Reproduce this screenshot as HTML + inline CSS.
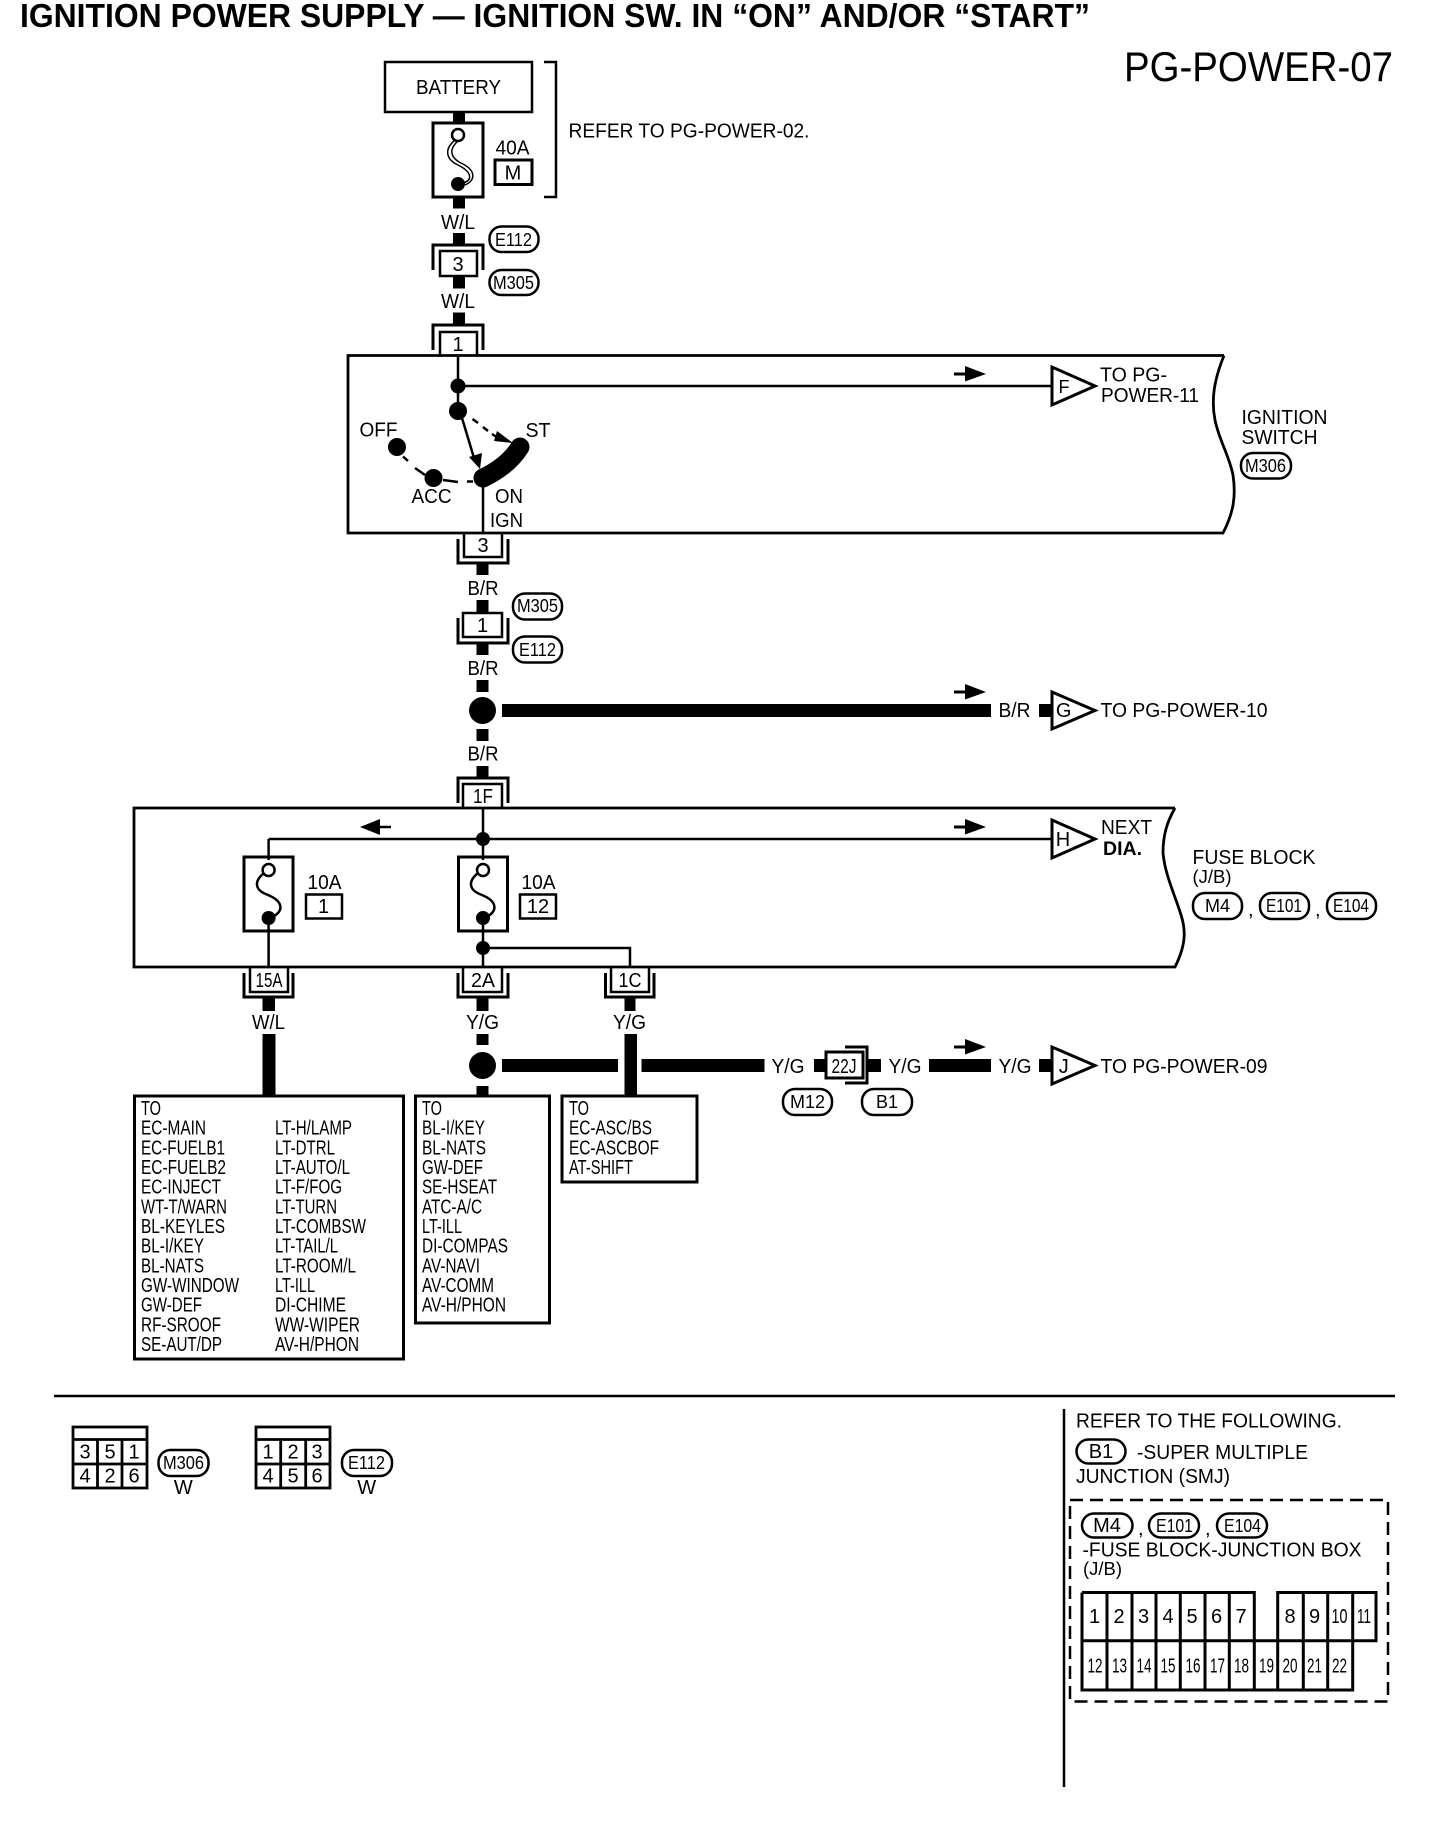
<!DOCTYPE html>
<html><head><meta charset="utf-8"><title>Ignition Power Supply</title>
<style>
html,body{margin:0;padding:0;background:#fff}
svg{display:block}
text{font-family:"Liberation Sans",sans-serif;font-size:20px;fill:#000}
.c{text-anchor:middle}
.s{font-size:18px}
.w{fill:#000;stroke:none}
.l{fill:none;stroke:#000;stroke-width:2.5}
.b{fill:none;stroke:#000;stroke-width:3}
.p{fill:#fff;stroke:#000;stroke-width:2.5}
</style></head><body>
<svg width="1456" height="1822" viewBox="0 0 1456 1822" xmlns="http://www.w3.org/2000/svg">
<rect width="1456" height="1822" fill="#fff"/>
<text x="20" y="27" style="font-size:33px;font-weight:bold" textLength="1070" lengthAdjust="spacingAndGlyphs">IGNITION POWER SUPPLY — IGNITION SW. IN “ON” AND/OR “START”</text>
<text x="1124" y="81" style="font-size:42px" textLength="269" lengthAdjust="spacingAndGlyphs">PG-POWER-07</text>

<!-- battery -->
<rect x="385" y="62" width="147" height="50" class="l"/>
<text x="416" y="94" textLength="85" lengthAdjust="spacingAndGlyphs">BATTERY</text>
<path d="M544,62H556V197H544" class="l"/>
<text x="568.500" y="137.500" textLength="241" lengthAdjust="spacingAndGlyphs">REFER TO PG-POWER-02.</text>
<rect x="453" y="111" width="12" height="12" class="w"/>
<rect x="433" y="123" width="50" height="74" class="b"/>
<circle cx="458" cy="135" r="6" fill="#fff" stroke="#000" stroke-width="2.500"/>
<circle cx="458" cy="184" r="7" class="w"/>
<path d="M455,140C443,150 447,160 458,165C472,172 473,180 463,183M458,141C448,150 451,158 461,163C476,170 476,180 465,185" fill="none" stroke="#000" stroke-width="1.500"/>
<text x="495.500" y="154.600" textLength="34" lengthAdjust="spacingAndGlyphs">40A</text>
<rect x="495" y="160" width="37" height="24.500" class="b"/>
<text x="513" y="179.600" class="c">M</text>
<rect x="453" y="197" width="12" height="11.500" class="w"/>
<text x="441" y="229" textLength="34" lengthAdjust="spacingAndGlyphs">W/L</text>

<!-- connector 3 -->
<rect x="453" y="233" width="12" height="12" class="w"/>
<path d="M433,270V245H483V270" class="b"/>
<rect x="440" y="251" width="37" height="25" class="l"/>
<text x="458" y="271" class="c">3</text>
<rect x="489.500" y="226.500" width="49" height="25.500" rx="12" class="p"/>
<text x="495" y="246" class="s" textLength="37" lengthAdjust="spacingAndGlyphs">E112</text>
<rect x="489.500" y="270" width="49" height="25" rx="12" class="p"/>
<text x="493" y="289" class="s" textLength="41" lengthAdjust="spacingAndGlyphs">M305</text>
<rect x="453" y="276" width="12" height="12.500" class="w"/>
<text x="441" y="308" textLength="34" lengthAdjust="spacingAndGlyphs">W/L</text>
<rect x="453" y="312.500" width="12" height="11.500" class="w"/>
<path d="M433,350V325H483V350" class="b"/>
<path d="M440,356V332H477V356" class="l"/>
<text x="458" y="351" class="c">1</text>

<!-- ignition switch box -->
<path d="M1224,355.500H348V533H1223C1234,512 1236,495 1233,475C1229,455 1219,440 1215,420C1211,400 1214,380 1224,355.500" fill="#fff" stroke="#000" stroke-width="2.800"/>
<path d="M458,356V411" class="l"/>
<circle cx="458" cy="386" r="7.500" class="w"/>
<circle cx="458" cy="411" r="9" class="w"/>
<path d="M458,386H1051" class="l"/>
<path d="M954,374H966" class="b"/><path d="M965,366L986,374L965,381.500Z" class="w"/>
<path d="M1052,367V405L1095,386Z" fill="#fff" stroke="#000" stroke-width="3"/>
<text x="1064" y="393" class="c" style="font-size:18px">F</text>
<text x="1100" y="381.400" textLength="67" lengthAdjust="spacingAndGlyphs">TO PG-</text>
<text x="1101" y="401.800" textLength="98" lengthAdjust="spacingAndGlyphs">POWER-11</text>
<text x="1241.500" y="424" textLength="86" lengthAdjust="spacingAndGlyphs">IGNITION</text>
<text x="1241.500" y="444" textLength="76" lengthAdjust="spacingAndGlyphs">SWITCH</text>
<rect x="1241" y="453" width="50" height="25.500" rx="12" class="p"/>
<text x="1245" y="472" class="s" textLength="41" lengthAdjust="spacingAndGlyphs">M306</text>
<path d="M462,418L474,458" class="l"/>
<path d="M469,457L482,453L480,469Z" class="w"/>
<path d="M472.500,419L478,423M483,427L488,431M492,434L498,438" class="l"/>
<path d="M497,431L513,443L494,441Z" class="w"/>
<path d="M520,447Q508,466 483,478" fill="none" stroke="#000" stroke-width="19" stroke-linecap="round"/>
<path d="M483,478V533" class="l"/>
<circle cx="397" cy="447" r="9" class="w"/>
<circle cx="433.500" cy="478" r="9" class="w"/>
<path d="M403,456.500L408,461M415,468L425,475M443,480L458,482M467,481.500L473,481.500" class="l"/>
<text x="359.500" y="436.700" textLength="38" lengthAdjust="spacingAndGlyphs">OFF</text>
<text x="525.500" y="437" textLength="25" lengthAdjust="spacingAndGlyphs">ST</text>
<text x="411.500" y="503" textLength="40" lengthAdjust="spacingAndGlyphs">ACC</text>
<text x="495" y="503" textLength="28" lengthAdjust="spacingAndGlyphs">ON</text>
<text x="490" y="527" textLength="33" lengthAdjust="spacingAndGlyphs">IGN</text>

<!-- connector below switch -->
<path d="M464,534V557H502V534" class="l"/>
<path d="M458,539V563H508V539" class="b"/>
<text x="483" y="552" class="c">3</text>
<rect x="476.500" y="564" width="12" height="11" class="w"/>
<text x="467.500" y="595" textLength="31" lengthAdjust="spacingAndGlyphs">B/R</text>
<rect x="476.500" y="600" width="12" height="13" class="w"/>
<rect x="463" y="613" width="39" height="24" class="l"/>
<path d="M458,618V643H508V618" class="b"/>
<text x="482.500" y="632" class="c">1</text>
<rect x="513" y="593.500" width="49" height="26" rx="12" class="p"/>
<text x="517" y="612" class="s" textLength="41" lengthAdjust="spacingAndGlyphs">M305</text>
<rect x="513" y="636.500" width="49" height="26" rx="12" class="p"/>
<text x="519" y="656" class="s" textLength="37" lengthAdjust="spacingAndGlyphs">E112</text>
<rect x="476.500" y="644" width="12" height="11" class="w"/>
<text x="467.500" y="675" textLength="31" lengthAdjust="spacingAndGlyphs">B/R</text>
<rect x="476.500" y="680" width="12" height="12" class="w"/>
<circle cx="482.500" cy="710.500" r="13.500" class="w"/>
<rect x="502" y="704" width="489" height="13" class="w"/>
<path d="M954,692H966" class="b"/><path d="M965,684L986,692L965,699.500Z" class="w"/>
<text x="998.500" y="717" textLength="32" lengthAdjust="spacingAndGlyphs">B/R</text>
<rect x="1039" y="704" width="13" height="13" class="w"/>
<path d="M1052,692V729L1095,710.500Z" fill="#fff" stroke="#000" stroke-width="3"/>
<text x="1063.700" y="717" class="c">G</text>
<text x="1100.500" y="717" textLength="167" lengthAdjust="spacingAndGlyphs">TO PG-POWER-10</text>
<rect x="476.500" y="729" width="12" height="12" class="w"/>
<text x="467.500" y="760.700" textLength="31" lengthAdjust="spacingAndGlyphs">B/R</text>
<rect x="476.500" y="766" width="12" height="11" class="w"/>
<path d="M458,803V778H508V803" class="b"/>
<path d="M463,808V784H502V808" class="l"/>
<text x="473" y="803" textLength="20" lengthAdjust="spacingAndGlyphs">1F</text>

<!-- fuse block -->
<path d="M1175,808H134V967H1175C1186,945 1186,930 1181,915C1175,895 1165,875 1163,853C1163,835 1167,822 1175,808" fill="#fff" stroke="#000" stroke-width="2.800"/>
<path d="M483,808V860M268.600,839H1051M268.600,839V860" class="l"/>
<circle cx="483" cy="839" r="7" class="w"/>
<path d="M391,827H378" class="l"/><path d="M380,819L360,827L380,835Z" class="w"/>
<path d="M954,827H966" class="b"/><path d="M965,819L986,827L965,834.500Z" class="w"/>
<path d="M1052,820V858L1095,839Z" fill="#fff" stroke="#000" stroke-width="3"/>
<text x="1063" y="846" class="c">H</text>
<text x="1101" y="834" textLength="51" lengthAdjust="spacingAndGlyphs">NEXT</text>
<text x="1103" y="855" textLength="39" lengthAdjust="spacingAndGlyphs" style="font-weight:bold;font-size:19px">DIA.</text>
<text x="1192.500" y="864" textLength="123" lengthAdjust="spacingAndGlyphs">FUSE BLOCK</text>
<text x="1192.500" y="883" class="s" textLength="39" lengthAdjust="spacingAndGlyphs">(J/B)</text>
<rect x="1193" y="893" width="49" height="26" rx="12" class="p"/>
<text x="1217.500" y="912" class="c s">M4</text>
<text x="1248" y="916">,</text>
<rect x="1260" y="893" width="49" height="26" rx="12" class="p"/>
<text x="1266" y="912" class="s" textLength="36" lengthAdjust="spacingAndGlyphs">E101</text>
<text x="1315" y="916">,</text>
<rect x="1327" y="893" width="49" height="26" rx="12" class="p"/>
<text x="1333" y="912" class="s" textLength="36" lengthAdjust="spacingAndGlyphs">E104</text>

<!-- fuses -->
<rect x="244" y="857" width="49" height="74" class="b" />
<circle cx="268.600" cy="870" r="6" fill="#fff" stroke="#000" stroke-width="2.500"/>
<circle cx="268.600" cy="918" r="7" class="w"/>
<path d="M264,873C254,881 254,890 268,895C285,902 282,912 274,916" class="l"/>
<path d="M268.600,925V967" class="l"/>
<text x="307.500" y="889" textLength="34" lengthAdjust="spacingAndGlyphs">10A</text>
<rect x="306" y="894.500" width="36" height="24" class="l"/>
<text x="323.500" y="913" class="c">1</text>
<rect x="458.500" y="857" width="49" height="74" class="b"/>
<circle cx="483" cy="870" r="6" fill="#fff" stroke="#000" stroke-width="2.500"/>
<circle cx="483" cy="918" r="7" class="w"/>
<path d="M478,873C468,881 468,890 482,895C499,902 496,912 488,916" class="l"/>
<path d="M483,925V967M483,948H630V967" class="l"/>
<circle cx="483" cy="948" r="7" class="w"/>
<text x="521.500" y="889" textLength="34" lengthAdjust="spacingAndGlyphs">10A</text>
<rect x="520" y="894.500" width="36" height="24" class="l"/>
<text x="538" y="913" class="c">12</text>

<!-- lower connectors -->
<path d="M250,968V992H288V968" class="l"/><path d="M244,973V997H293V973" class="b"/>
<text x="255.500" y="987" textLength="27" lengthAdjust="spacingAndGlyphs">15A</text>
<path d="M463,968V992H502V968" class="l"/><path d="M458,973V997H508V973" class="b"/>
<text x="471" y="987" textLength="24" lengthAdjust="spacingAndGlyphs">2A</text>
<path d="M611,968V992H649V968" class="l"/><path d="M605.500,973V997H654V973" class="b"/>
<text x="618.500" y="987" textLength="23" lengthAdjust="spacingAndGlyphs">1C</text>
<rect x="262.500" y="998" width="12.500" height="13" class="w"/>
<rect x="476.500" y="998" width="12" height="13" class="w"/>
<rect x="624.500" y="998" width="11" height="13" class="w"/>
<text x="252" y="1029" textLength="33" lengthAdjust="spacingAndGlyphs">W/L</text>
<text x="466" y="1029" textLength="33" lengthAdjust="spacingAndGlyphs">Y/G</text>
<text x="613" y="1029" textLength="33" lengthAdjust="spacingAndGlyphs">Y/G</text>
<rect x="262.500" y="1034" width="13" height="63" class="w"/>
<rect x="476.500" y="1034" width="12" height="11" class="w"/>
<rect x="476.500" y="1086" width="12" height="11" class="w"/>
<rect x="624.500" y="1034" width="12.500" height="63" class="w"/>
<circle cx="482.500" cy="1065.500" r="13.500" class="w"/>
<rect x="502" y="1059" width="116" height="13" class="w"/>
<rect x="641.500" y="1059" width="123" height="13" class="w"/>
<text x="771.500" y="1073" textLength="33" lengthAdjust="spacingAndGlyphs">Y/G</text>
<rect x="814" y="1059" width="12" height="13" class="w"/>
<rect x="826" y="1052" width="37" height="26" fill="#fff" stroke="#000" stroke-width="3"/>
<path d="M845,1047H867V1083H845" class="b"/>
<text x="831.500" y="1073" textLength="25" lengthAdjust="spacingAndGlyphs">22J</text>
<rect x="868" y="1059" width="13" height="13" class="w"/>
<text x="888.500" y="1073" textLength="33" lengthAdjust="spacingAndGlyphs">Y/G</text>
<rect x="929" y="1059" width="62" height="13" class="w"/>
<path d="M954,1047H966" class="b"/><path d="M965,1039L986,1047L965,1054.500Z" class="w"/>
<text x="998.500" y="1073" textLength="33" lengthAdjust="spacingAndGlyphs">Y/G</text>
<rect x="1039" y="1059" width="13" height="13" class="w"/>
<path d="M1052,1047V1084L1095,1065.500Z" fill="#fff" stroke="#000" stroke-width="3"/>
<text x="1063.700" y="1073" class="c">J</text>
<text x="1100.500" y="1073" textLength="167" lengthAdjust="spacingAndGlyphs">TO PG-POWER-09</text>
<rect x="783" y="1089" width="49" height="26" rx="12" class="p"/>
<text x="807.500" y="1108" class="c s">M12</text>
<rect x="862" y="1089" width="50" height="26" rx="12" class="p"/>
<text x="887" y="1108" class="c s">B1</text>

<!-- destination boxes -->
<rect x="134.500" y="1096" width="269" height="263" class="b"/>
<rect x="415.500" y="1096" width="134" height="227" class="b"/>
<rect x="562" y="1096" width="135" height="86" class="b"/>
<text x="141" y="1115" textLength="20" lengthAdjust="spacingAndGlyphs">TO</text>
<text x="141" y="1134.700" textLength="65" lengthAdjust="spacingAndGlyphs">EC-MAIN</text>
<text x="141" y="1154.300" textLength="84" lengthAdjust="spacingAndGlyphs">EC-FUELB1</text>
<text x="141" y="1174" textLength="85" lengthAdjust="spacingAndGlyphs">EC-FUELB2</text>
<text x="141" y="1193.700" textLength="80" lengthAdjust="spacingAndGlyphs">EC-INJECT</text>
<text x="141" y="1213.300" textLength="86" lengthAdjust="spacingAndGlyphs">WT-T/WARN</text>
<text x="141" y="1233" textLength="84" lengthAdjust="spacingAndGlyphs">BL-KEYLES</text>
<text x="141" y="1252.700" textLength="63" lengthAdjust="spacingAndGlyphs">BL-I/KEY</text>
<text x="141" y="1272.300" textLength="63" lengthAdjust="spacingAndGlyphs">BL-NATS</text>
<text x="141" y="1292" textLength="98" lengthAdjust="spacingAndGlyphs">GW-WINDOW</text>
<text x="141" y="1311.700" textLength="61" lengthAdjust="spacingAndGlyphs">GW-DEF</text>
<text x="141" y="1331.300" textLength="80" lengthAdjust="spacingAndGlyphs">RF-SROOF</text>
<text x="141" y="1351" textLength="81" lengthAdjust="spacingAndGlyphs">SE-AUT/DP</text>
<text x="275" y="1134.700" textLength="77" lengthAdjust="spacingAndGlyphs">LT-H/LAMP</text>
<text x="275" y="1154.300" textLength="60" lengthAdjust="spacingAndGlyphs">LT-DTRL</text>
<text x="275" y="1174" textLength="75" lengthAdjust="spacingAndGlyphs">LT-AUTO/L</text>
<text x="275" y="1193.700" textLength="67" lengthAdjust="spacingAndGlyphs">LT-F/FOG</text>
<text x="275" y="1213.300" textLength="62" lengthAdjust="spacingAndGlyphs">LT-TURN</text>
<text x="275" y="1233" textLength="91" lengthAdjust="spacingAndGlyphs">LT-COMBSW</text>
<text x="275" y="1252.700" textLength="63" lengthAdjust="spacingAndGlyphs">LT-TAIL/L</text>
<text x="275" y="1272.300" textLength="81" lengthAdjust="spacingAndGlyphs">LT-ROOM/L</text>
<text x="275" y="1292" textLength="40" lengthAdjust="spacingAndGlyphs">LT-ILL</text>
<text x="275" y="1311.700" textLength="71" lengthAdjust="spacingAndGlyphs">DI-CHIME</text>
<text x="275" y="1331.300" textLength="85" lengthAdjust="spacingAndGlyphs">WW-WIPER</text>
<text x="275" y="1351" textLength="84" lengthAdjust="spacingAndGlyphs">AV-H/PHON</text>
<text x="422" y="1115" textLength="20" lengthAdjust="spacingAndGlyphs">TO</text>
<text x="422" y="1134.700" textLength="63" lengthAdjust="spacingAndGlyphs">BL-I/KEY</text>
<text x="422" y="1154.300" textLength="64" lengthAdjust="spacingAndGlyphs">BL-NATS</text>
<text x="422" y="1174" textLength="61" lengthAdjust="spacingAndGlyphs">GW-DEF</text>
<text x="422" y="1193.700" textLength="75" lengthAdjust="spacingAndGlyphs">SE-HSEAT</text>
<text x="422" y="1213.300" textLength="60" lengthAdjust="spacingAndGlyphs">ATC-A/C</text>
<text x="422" y="1233" textLength="40" lengthAdjust="spacingAndGlyphs">LT-ILL</text>
<text x="422" y="1252.700" textLength="86" lengthAdjust="spacingAndGlyphs">DI-COMPAS</text>
<text x="422" y="1272.300" textLength="58" lengthAdjust="spacingAndGlyphs">AV-NAVI</text>
<text x="422" y="1292" textLength="72" lengthAdjust="spacingAndGlyphs">AV-COMM</text>
<text x="422" y="1311.700" textLength="84" lengthAdjust="spacingAndGlyphs">AV-H/PHON</text>
<text x="569" y="1115" textLength="20" lengthAdjust="spacingAndGlyphs">TO</text>
<text x="569" y="1134.700" textLength="83" lengthAdjust="spacingAndGlyphs">EC-ASC/BS</text>
<text x="569" y="1154.300" textLength="90" lengthAdjust="spacingAndGlyphs">EC-ASCBOF</text>
<text x="569" y="1174" textLength="64" lengthAdjust="spacingAndGlyphs">AT-SHIFT</text>

<!-- separators -->
<path d="M54,1396H1395" class="l"/>
<path d="M1064,1409V1787" class="l"/>

<!-- connector diagrams -->
<g fill="none" stroke="#000" stroke-width="2.800">
<rect x="73" y="1427" width="74" height="61"/><path d="M73,1439.500H147M73,1464H147M97.500,1439.500V1488M122,1439.500V1488"/>
<rect x="256" y="1427" width="74" height="61"/><path d="M256,1439.500H330M256,1464H330M280.700,1439.500V1488M305.700,1439.500V1488"/>
</g>
<g class="c">
<text x="85" y="1458.300">3</text><text x="110" y="1458.300">5</text><text x="134" y="1458.300">1</text>
<text x="85" y="1482.700">4</text><text x="110" y="1482.700">2</text><text x="134" y="1482.700">6</text>
<text x="268" y="1458.300">1</text><text x="293" y="1458.300">2</text><text x="317" y="1458.300">3</text>
<text x="268" y="1482.700">4</text><text x="293" y="1482.700">5</text><text x="317" y="1482.700">6</text>
<text x="183.300" y="1494">W</text><text x="366.700" y="1494">W</text>
</g>
<rect x="158.500" y="1450" width="50" height="26" rx="12" class="p"/>
<text x="163" y="1469" class="s" textLength="41" lengthAdjust="spacingAndGlyphs">M306</text>
<rect x="342" y="1450" width="50" height="26" rx="12" class="p"/>
<text x="348" y="1469" class="s" textLength="37" lengthAdjust="spacingAndGlyphs">E112</text>

<!-- legend -->
<text x="1076" y="1427.700" textLength="266" lengthAdjust="spacingAndGlyphs">REFER TO THE FOLLOWING.</text>
<rect x="1076.500" y="1439.500" width="49" height="24" rx="12" class="p"/>
<text x="1101" y="1458" class="c">B1</text>
<text x="1137" y="1459" textLength="171" lengthAdjust="spacingAndGlyphs">-SUPER MULTIPLE</text>
<text x="1076" y="1483" textLength="154" lengthAdjust="spacingAndGlyphs">JUNCTION (SMJ)</text>
<rect x="1070" y="1500" width="318" height="201.500" fill="none" stroke="#000" stroke-width="2.500" stroke-dasharray="13 7"/>
<rect x="1082" y="1513.500" width="50.500" height="24" rx="12" class="p"/>
<text x="1107" y="1532" class="c">M4</text>
<text x="1138" y="1535">,</text>
<rect x="1149" y="1513.500" width="50" height="24" rx="12" class="p"/>
<text x="1156" y="1532" class="s" textLength="37" lengthAdjust="spacingAndGlyphs">E101</text>
<text x="1205" y="1535">,</text>
<rect x="1217" y="1513.500" width="50" height="24" rx="12" class="p"/>
<text x="1224" y="1532" class="s" textLength="37" lengthAdjust="spacingAndGlyphs">E104</text>
<text x="1082.500" y="1556.700" textLength="279" lengthAdjust="spacingAndGlyphs">-FUSE BLOCK-JUNCTION BOX</text>
<text x="1083" y="1575" class="s" textLength="39" lengthAdjust="spacingAndGlyphs">(J/B)</text>
<path d="M1082,1592.500H1254.300V1640.500M1277.700,1640.500V1592.500H1376V1640.700H1082M1082,1592.500V1690H1352.700V1592.500M1107,1592.500V1690M1132,1592.500V1690M1156,1592.500V1690M1180.300,1592.500V1690M1205,1592.500V1690M1229.300,1592.500V1690M1254.300,1640.500V1690M1277.700,1640.500V1690M1303.300,1592.500V1690M1327.700,1592.500V1690" class="b"/>
<g class="c">
<text x="1094.500" y="1623">1</text><text x="1119" y="1623">2</text><text x="1143.500" y="1623">3</text><text x="1168" y="1623">4</text><text x="1192" y="1623">5</text><text x="1216.500" y="1623">6</text><text x="1241" y="1623">7</text><text x="1290" y="1623">8</text><text x="1314.500" y="1623">9</text><text x="1339.500" y="1623" textLength="16" lengthAdjust="spacingAndGlyphs">10</text><text x="1364" y="1623" textLength="14" lengthAdjust="spacingAndGlyphs">11</text>
<text x="1095" y="1672.700" textLength="15" lengthAdjust="spacingAndGlyphs">12</text><text x="1119.500" y="1672.700" textLength="15" lengthAdjust="spacingAndGlyphs">13</text><text x="1144" y="1672.700" textLength="15" lengthAdjust="spacingAndGlyphs">14</text><text x="1168" y="1672.700" textLength="15" lengthAdjust="spacingAndGlyphs">15</text><text x="1193" y="1672.700" textLength="15" lengthAdjust="spacingAndGlyphs">16</text><text x="1217.500" y="1672.700" textLength="15" lengthAdjust="spacingAndGlyphs">17</text><text x="1241.500" y="1672.700" textLength="15" lengthAdjust="spacingAndGlyphs">18</text><text x="1266.500" y="1672.700" textLength="15" lengthAdjust="spacingAndGlyphs">19</text><text x="1290" y="1672.700" textLength="15" lengthAdjust="spacingAndGlyphs">20</text><text x="1314.500" y="1672.700" textLength="15" lengthAdjust="spacingAndGlyphs">21</text><text x="1339.500" y="1672.700" textLength="15" lengthAdjust="spacingAndGlyphs">22</text>
</g>
</svg>
</body></html>
